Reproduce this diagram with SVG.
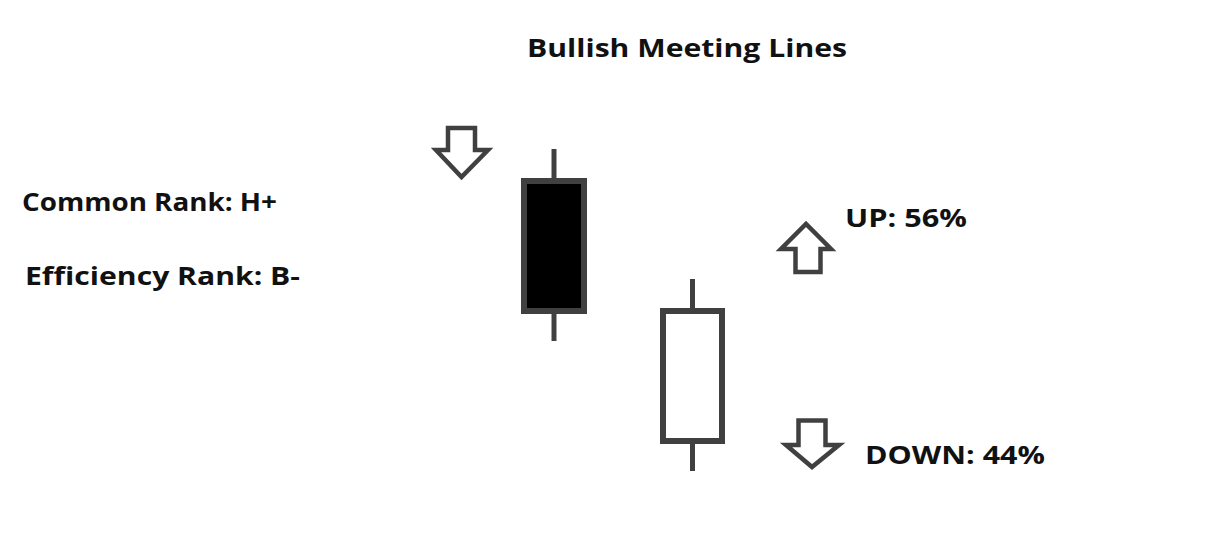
<svg xmlns="http://www.w3.org/2000/svg" width="1206" height="537" viewBox="0 0 1206 537">
<style>
.t{font-family:"Open Sans","Noto Sans",sans-serif;font-weight:bold;font-size:25px;fill:#111}
.arrow{fill:#fff;stroke:#404040;stroke-width:4.5;stroke-linejoin:miter}
.wick{stroke:#404040;stroke-width:5}
.body{stroke:#404040;stroke-width:6}
</style>
<rect width="1206" height="537" fill="#fff"/>
<g id="title"><text class="t" x="527" y="57" textLength="320" lengthAdjust="spacingAndGlyphs">Bullish Meeting Lines</text></g>
<g id="common-rank"><text class="t" x="22" y="211" textLength="255" lengthAdjust="spacingAndGlyphs">Common Rank: H+</text></g>
<g id="efficiency-rank"><text class="t" x="25" y="285" textLength="275" lengthAdjust="spacingAndGlyphs">Efficiency Rank: B-</text></g>
<g id="arrow-down-1"><path class="arrow" d="M448,128 H475 V150 H488 L461.5,177 L436,150 H448 Z"/></g>
<g id="candle-black">
<line class="wick" x1="554" y1="149" x2="554" y2="181"/>
<line class="wick" x1="554" y1="311" x2="554" y2="341"/>
<rect class="body" x="524" y="181" width="60" height="130" fill="#000"/>
</g>
<g id="candle-white">
<line class="wick" x1="692.5" y1="279" x2="692.5" y2="311"/>
<line class="wick" x1="692.5" y1="441" x2="692.5" y2="471"/>
<rect class="body" x="663" y="311" width="59" height="130" fill="#fff"/>
</g>
<g id="arrow-up"><path class="arrow" d="M795.5,272 H820.5 V249 H831 L806,224 L781,249 H795.5 Z"/></g>
<g id="up-label"><text class="t" x="845" y="227" textLength="122" lengthAdjust="spacingAndGlyphs">UP: 56%</text></g>
<g id="arrow-down-2"><path class="arrow" d="M798.5,420.5 H825.5 V445 H839 L812,467 L786,445 H798.5 Z"/></g>
<g id="down-label"><text class="t" x="865" y="464" textLength="180" lengthAdjust="spacingAndGlyphs">DOWN: 44%</text></g>
<g id="connectors"/>
</svg>
